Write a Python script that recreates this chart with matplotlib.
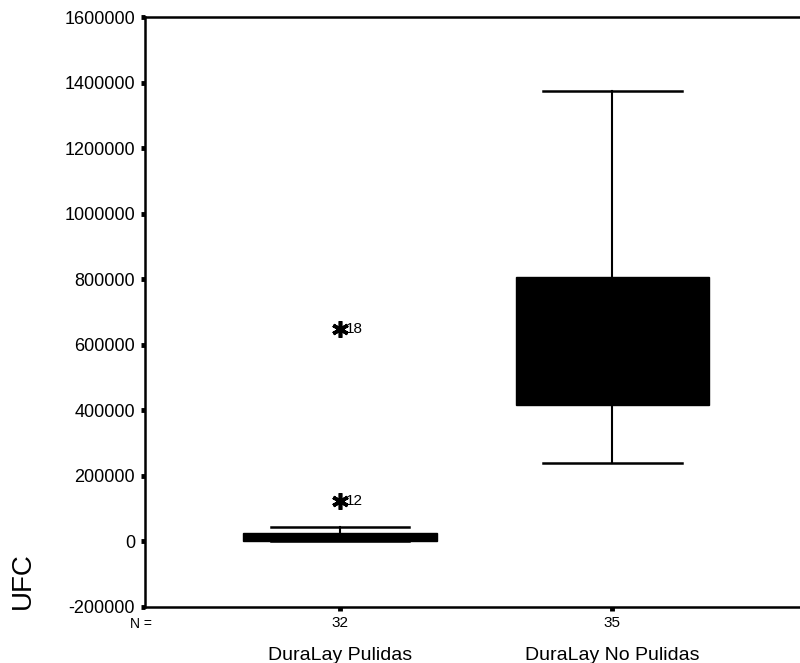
import matplotlib
matplotlib.use('Agg')
from matplotlib import pyplot as plt

plt.rcParams['font.family'] = ['Liberation Sans', 'DejaVu Sans']

groups = ['DuraLay Pulidas', 'DuraLay No Pulidas']
counts = [32, 35]
q1 = [1000, 415000]
q3 = [25000, 806000]
medians = [8000, 600000]
whisker_low = [0, 238000]
whisker_high = [43000, 1374000]
outlier_values = [647000, 122000]
outlier_ids = ['18', '12']
outlier_group = [0, 0]

yticks = [-200000, 0, 200000, 400000, 600000, 800000, 1000000, 1200000, 1400000, 1600000]

fig = plt.figure(figsize=(8, 6.63), dpi=100)
ax = fig.add_axes([0.181, 0.085, 0.819, 0.889])

stats = []
for i in range(len(groups)):
    stats.append({'med': medians[i], 'q1': q1[i], 'q3': q3[i],
                  'whislo': whisker_low[i], 'whishi': whisker_high[i],
                  'fliers': []})

positions = [1, 2]
ax.bxp(stats, positions=positions, widths=0.71, patch_artist=True,
       showfliers=False,
       boxprops=dict(facecolor='black', edgecolor='black', linewidth=1),
       medianprops=dict(color='black', linewidth=1),
       whiskerprops=dict(color='black', linewidth=1.5),
       capprops=dict(color='black', linewidth=1.8),
       capwidths=0.51)

for v, lab, g in zip(outlier_values, outlier_ids, outlier_group):
    x = positions[g]
    ax.plot(x, v, marker=(6, 2, 0), color='black', markersize=12,
            markeredgewidth=2.6, linestyle='none')
    ax.text(x + 0.022, v, lab, fontsize=11, va='center', ha='left')

ax.set_xlim(0.283, 2.69)
ax.set_ylim(-200000, 1600000)
ax.set_yticks(yticks)
ax.set_yticklabels([str(t) for t in yticks], fontsize=13)
ax.tick_params(axis='y', direction='out', length=3, width=3.5, pad=4)
ax.set_xticks(positions)
ax.set_xticklabels([str(c) for c in counts], fontsize=11)
ax.tick_params(axis='x', direction='out', length=3, width=3.5, pad=4)

for i, g in enumerate(groups):
    ax.text(positions[i], -0.068, g, transform=ax.get_xaxis_transform(),
            ha='center', va='top', fontsize=14)
ax.text(0.011, -0.018, 'N =', transform=ax.transAxes, ha='right', va='top',
        fontsize=10)

ax.spines['right'].set_visible(False)
for s in ['left', 'top', 'bottom']:
    ax.spines[s].set_linewidth(1.8)

fig.text(0.028, 0.125, 'UFC', rotation=90, fontsize=20, ha='center', va='center')

fig.savefig('out.png', dpi=100)
